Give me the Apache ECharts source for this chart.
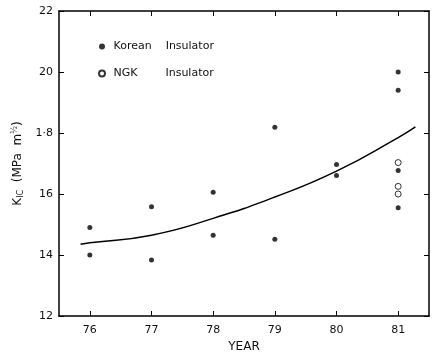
<!DOCTYPE html>
<html>
<head>
<meta charset="utf-8">
<script src="https://cdn.jsdelivr.net/npm/echarts@6/dist/echarts.min.js"></script>
<style>html,body{margin:0;padding:0;background:#fff}#c{width:432px;height:358px}</style>
</head>
<body>
<div id="c"></div>
<script>
var years = [76, 77, 78, 79, 80, 81];
var yTickValues = [1.2, 1.4, 1.6, 1.8, 2.0, 2.2];
var yTickLabels = ["12", "14", "16", "1·8", "20", "22"];
var koreanYears = [76, 76, 77, 77, 78, 78, 79, 79, 80, 80, 81, 81, 81, 81];
var koreanK = [1.49, 1.40, 1.558, 1.384, 1.606, 1.465, 1.819, 1.452, 1.697, 1.661, 2.00, 1.94, 1.677, 1.555];
var ngkYears = [81, 81, 81];
var ngkK = [1.703, 1.625, 1.60];
var fitYears = [75.85, 76, 77, 78, 79, 80, 81, 81.28];
var fitK = [1.435, 1.44, 1.465, 1.52, 1.59, 1.675, 1.785, 1.82];

function pairs(xs, ys) { return xs.map(function (x, i) { return [x, ys[i]]; }); }

var font = 'DejaVu Sans';
var koreanName = 'Korean    Insulator';
var ngkName = 'NGK        Insulator';
var chart = echarts.init(document.getElementById('c'));
chart.setOption({
  animation: false,
  backgroundColor: '#fff',
  textStyle: { fontFamily: font, color: '#111' },
  grid: { left: 59, right: 3, top: 11, bottom: 37 },
  legend: {
    orient: 'vertical', left: 93, top: 36, itemGap: 16,
    itemWidth: 6, itemHeight: 6,
    formatter: function (n) { return ' ' + n; },
    textStyle: { fontFamily: font, fontSize: 11, color: '#111' },
    data: [
      { name: koreanName, icon: 'circle' },
      { name: ngkName, icon: 'circle' }
    ]
  },
  xAxis: [{
    type: 'value', min: 75.5, max: 81.5, position: 'bottom',
    name: 'YEAR', nameLocation: 'middle', nameGap: 25,
    nameTextStyle: { fontFamily: font, fontSize: 12, color: '#111' },
    axisLine: { lineStyle: { color: '#000', width: 1.5 } },
    axisTick: { inside: true, length: 5, customValues: years, lineStyle: { color: '#000' } },
    axisLabel: { customValues: years, fontSize: 11, color: '#111', margin: 9 },
    splitLine: { show: false }
  }, {
    type: 'value', min: 75.5, max: 81.5, position: 'top',
    axisLine: { show: true, onZero: false, lineStyle: { color: '#000', width: 1.5 } },
    axisTick: { inside: true, length: 5, customValues: years, lineStyle: { color: '#000' } },
    axisLabel: { show: false }, splitLine: { show: false }
  }],
  yAxis: [{
    type: 'value', min: 1.2, max: 2.2, interval: 0.2, position: 'left',
    name: 'K{sub|IC}  (MPa  m{sup|½})', nameLocation: 'middle', nameGap: 34, nameRotate: 90,
    nameTextStyle: {
      fontFamily: font, fontSize: 12, color: '#111',
      rich: { sub: { fontSize: 8, verticalAlign: 'bottom', padding: [6, 0, 0, 0] }, sup: { fontSize: 8, verticalAlign: 'top', padding: [0, 0, 6, 0] } }
    },
    axisLine: { show: true, lineStyle: { color: '#000', width: 1.5 } },
    axisTick: { show: true, inside: true, length: 5, lineStyle: { color: '#000' } },
    axisLabel: {
      fontSize: 11, color: '#111', margin: 6,
      formatter: function (v) {
        for (var i = 0; i < yTickValues.length; i++) if (Math.abs(v - yTickValues[i]) < 1e-6) return yTickLabels[i];
        return '';
      }
    },
    splitLine: { show: false }
  }, {
    type: 'value', min: 1.2, max: 2.2, interval: 0.2, position: 'right',
    axisLine: { show: true, lineStyle: { color: '#000', width: 1.5 } },
    axisTick: { show: true, inside: true, length: 5, lineStyle: { color: '#000' } },
    axisLabel: { show: false }, splitLine: { show: false }
  }],
  series: [{
    name: 'fit', type: 'line', smooth: true, symbol: 'none',
    data: pairs(fitYears, fitK),
    lineStyle: { color: '#000', width: 1.5 }, z: 1
  }, {
    name: koreanName, type: 'scatter', symbol: 'circle', symbolSize: 5,
    data: pairs(koreanYears, koreanK),
    itemStyle: { color: '#000' }, z: 3
  }, {
    name: ngkName, type: 'scatter', symbol: 'circle', symbolSize: 6,
    data: pairs(ngkYears, ngkK),
    itemStyle: { color: '#fff', borderColor: '#000', borderWidth: 1 }, z: 2
  }]
});
</script>
</body>
</html>
